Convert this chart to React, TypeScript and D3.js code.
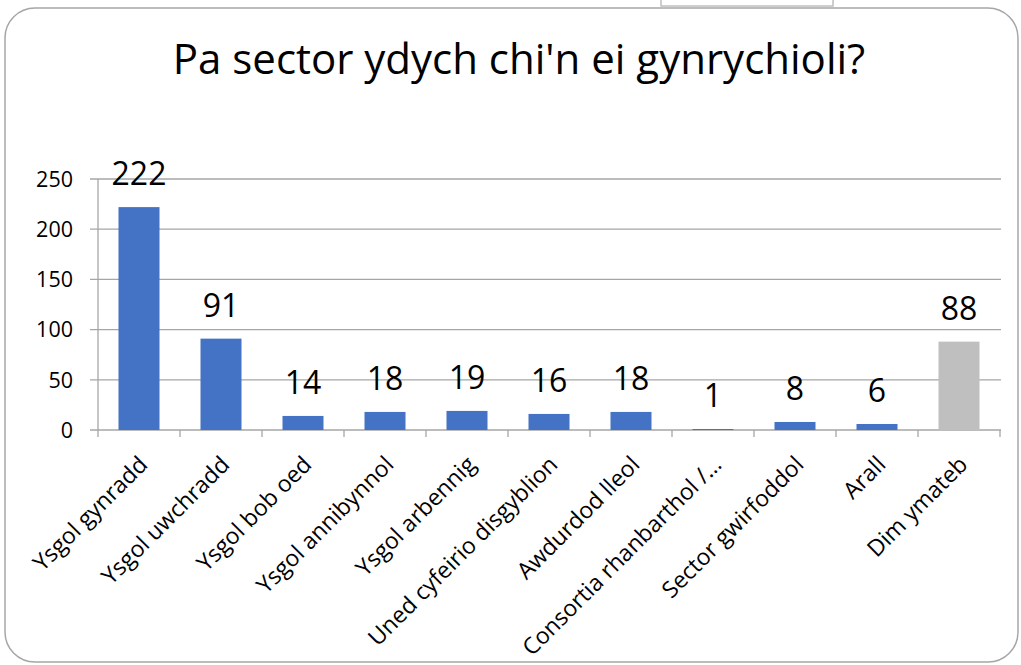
import React from "react";
import * as d3 from "d3";

const categories = [
  "Ysgol gynradd",
  "Ysgol uwchradd",
  "Ysgol bob oed",
  "Ysgol annibynnol",
  "Ysgol arbennig",
  "Uned cyfeirio disgyblion",
  "Awdurdod lleol",
  "Consortia rhanbarthol /…",
  "Sector gwirfoddol",
  "Arall",
  "Dim ymateb",
];
const values = [222, 91, 14, 18, 19, 16, 18, 1, 8, 6, 88];
const barColors = ["#4472C4", "#4472C4", "#4472C4", "#4472C4", "#4472C4", "#4472C4", "#4472C4", "#4472C4", "#4472C4", "#4472C4", "#BFBFBF"];
const yTicks = [0, 50, 100, 150, 200, 250];
const title = "Pa sector ydych chi'n ei gynrychioli?";

const W = 1021;
const H = 665;
const FONT = "'Open Sans', sans-serif";

export default function App() {
  const x = d3.scaleBand<string>().domain(categories).range([98, 1000]).paddingInner(0.5).paddingOuter(0.25);
  const y = d3.scaleLinear().domain([0, 250]).range([430, 179]);
  const step = x.step();
  const boundaries = d3.range(categories.length + 1).map((i) => 98 + i * step);

  return (
    <svg width={W} height={H} style={{ position: "fixed", left: 0, top: 0, background: "#fff" }} fontFamily={FONT}>
      <rect x={0} y={0} width={W} height={H} fill="#fff" />
      <rect x={661} y={-4} width={172} height={10} fill="#fff" stroke="#BFBFBF" strokeWidth={1.5} />
      <rect x={5} y={8} width={1013} height={654} rx={30} ry={30} fill="none" stroke="#A6A6A6" strokeWidth={1.5} />
      <text x={519} y={74} textAnchor="middle" fontSize={42} fill="#000">{title}</text>

      {yTicks.map((t) => (
        <g key={t}>
          <line x1={90} x2={1001} y1={y(t)} y2={y(t)} stroke="#A6A6A6" strokeWidth={1.3} />
          <text x={73} y={y(t)} dy="0.36em" textAnchor="end" fontSize={21.5} fill="#000">{t}</text>
        </g>
      ))}
      <line x1={98} x2={98} y1={y(250)} y2={y(0)} stroke="#A6A6A6" strokeWidth={1.3} />
      {boundaries.map((b, i) => (
        <line key={i} x1={b} x2={b} y1={y(0)} y2={y(0) + 7} stroke="#A6A6A6" strokeWidth={1.3} />
      ))}

      {categories.map((c, i) => {
        const bx = x(c)!;
        const cx = bx + x.bandwidth() / 2;
        return (
          <g key={c}>
            <rect x={bx} y={y(values[i])} width={x.bandwidth()} height={y(0) - y(values[i])} fill={barColors[i]} />
            <text x={cx} y={y(values[i]) - 22} textAnchor="middle" fontSize={32} fill="#000">{values[i]}</text>
            <text transform={`translate(${cx + 10},${466}) rotate(-45)`} textAnchor="end" fontSize={23} fill="#000">{c}</text>
          </g>
        );
      })}
    </svg>
  );
}
